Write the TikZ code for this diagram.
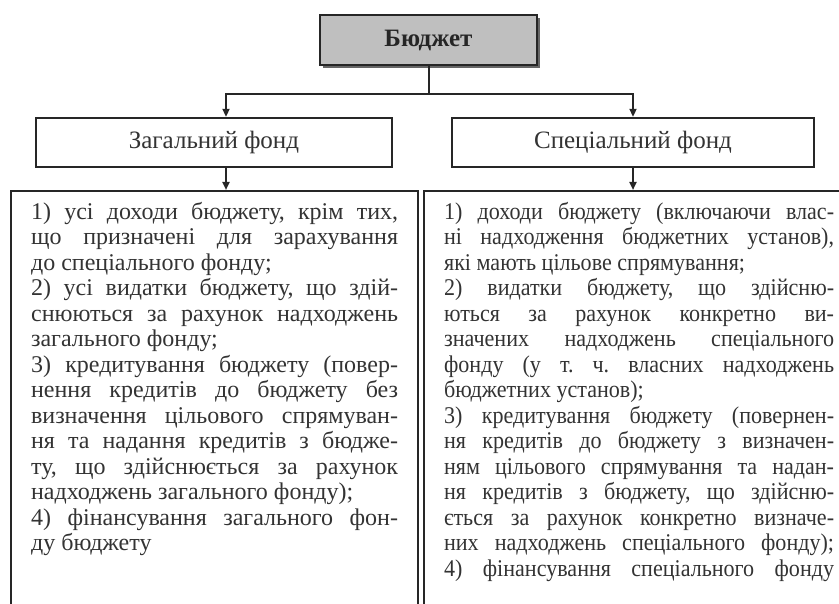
\documentclass[tikz,border=0pt]{standalone}
\usepackage{fontspec}
\setmainfont{Liberation Serif}
\newfontfamily\narrowfont[FakeStretch=0.92]{Liberation Serif}
\usepackage{tikz}
\usetikzlibrary{positioning,arrows.meta,shadows}

\begin{document}
\begin{tikzpicture}[
  x=1pt, y=1pt,
  budget/.style={draw=black!85, line width=2.6pt, fill=black!25,
                 minimum width=217pt, minimum height=50pt,
                 font=\fontsize{25}{28}\selectfont\bfseries, text=black!85,
                 drop shadow={shadow xshift=3pt, shadow yshift=-3pt,
                              fill=black!60, opacity=1}},
  fund/.style={draw=black!85, line width=2.4pt, fill=white,
               minimum width=356pt, minimum height=49pt,
               font=\fontsize{25}{28}\selectfont, text=black!80},
  listbox/.style={draw=black!85, line width=2.2pt, anchor=north west,
                  inner ysep=11pt, text=black!80},
  arr/.style={-{Triangle[length=8pt, width=7pt]}, line width=2pt, draw=black!85},
  line/.style={line width=2pt, draw=black!85},
]
\useasboundingbox (0,0) rectangle (839,-604);

%% Top box
\node[budget] (bud) at (428.5,-40) {Бюджет};

%% Funds
\node[fund] (genf) at (214,-142.5) {Загальний фонд};
\node[fund, minimum width=362pt] (spef) at (633,-142.5) {Спеціальний фонд};

%% Branch
\coordinate (split) at (bud.south |- 0,-94);
\draw[line] (bud) -- (split);
\draw[arr] (split) -| ([xshift=12pt]genf.north);
\draw[arr] (split) -| (spef.north);

%% Lists
\node[listbox, inner xsep=20pt] (genl) at (10,-190)
  {\parbox[t][420pt][t]{367pt}{\fontsize{24}{25.5}\selectfont
   \frenchspacing\tolerance=10000\hyphenpenalty=10000
   1) усі доходи бюджету, крім тих,\linebreak
   що призначені для зарахування\linebreak
   до спеціального фонду;\newline
   2) усі видатки бюджету, що здій-\linebreak
   снюються за рахунок надходжень\linebreak
   загального фонду;\newline
   3) кредитування бюджету (повер-\linebreak
   нення кредитів до бюджету без\linebreak
   визначення цільового спрямуван-\linebreak
   ня та надання кредитів з бюдже-\linebreak
   ту, що здійснюється за рахунок\linebreak
   надходжень загального фонду);\newline
   4) фінансування загального фон-\linebreak
   ду бюджету}};
\node[listbox, inner xsep=20pt] (spel) at (423,-190)
  {\parbox[t][420pt][t]{390pt}{\narrowfont\fontsize{24}{25.5}\selectfont
   \frenchspacing\tolerance=10000\hyphenpenalty=10000
   1) доходи бюджету (включаючи влас-\linebreak
   ні надходження бюджетних установ),\linebreak
   які мають цільове спрямування;\newline
   2) видатки бюджету, що здійсню-\linebreak
   ються за рахунок конкретно ви-\linebreak
   значених надходжень спеціального\linebreak
   фонду (у т.~ч. власних надходжень\linebreak
   бюджетних установ);\newline
   3) кредитування бюджету (повернен-\linebreak
   ня кредитів до бюджету з визначен-\linebreak
   ням цільового спрямування та надан-\linebreak
   ня кредитів з бюджету, що здійсню-\linebreak
   ється за рахунок конкретно визначе-\linebreak
   них надходжень спеціального фонду);\linebreak
   4) фінансування спеціального фонду\linebreak\mbox{}}};

\draw[arr] ([xshift=12pt]genf.south) -- ([xshift=12pt]genf.south |- genl.north);
\draw[arr] (spef.south) -- (spef.south |- spel.north);

\end{tikzpicture}
\end{document}
